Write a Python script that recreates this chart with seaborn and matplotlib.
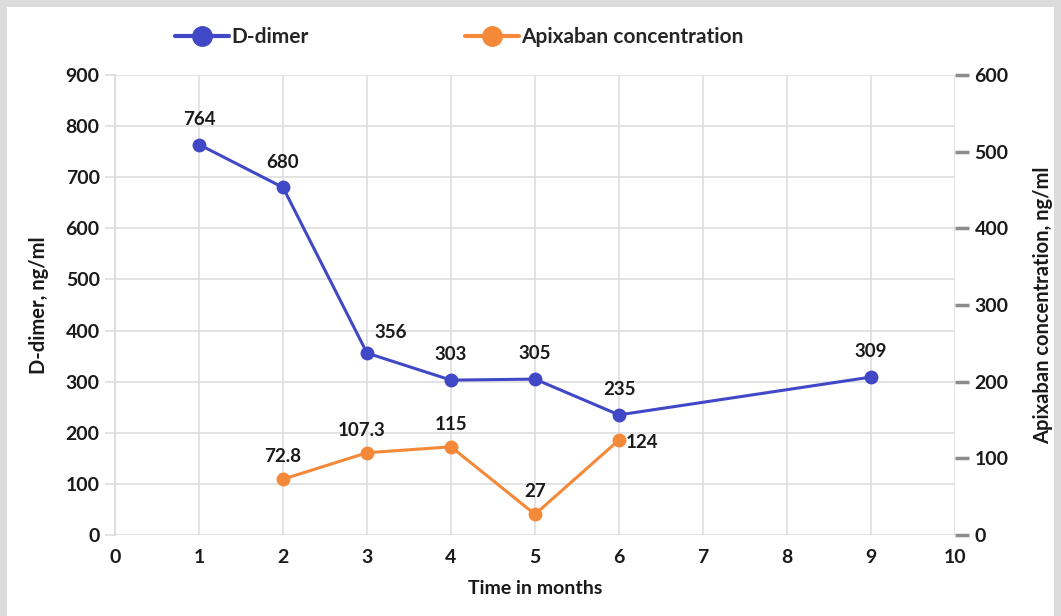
import pandas as pd
import matplotlib.pyplot as plt
import seaborn as sns
from matplotlib.lines import Line2D
from matplotlib.patches import Rectangle

# data
ddimer_months = [1, 2, 3, 4, 5, 6, 9]
ddimer_values = [764, 680, 356, 303, 305, 235, 309]
apix_months = [2, 3, 4, 5, 6]
apix_values = [72.8, 107.3, 115, 27, 124]
apix_labels = ["72.8", "107.3", "115", "27", "124"]

df_d = pd.DataFrame({"month": ddimer_months, "value": ddimer_values})
df_a = pd.DataFrame({"month": apix_months, "value": apix_values})

sns.set_style("white")
plt.rcParams['font.family'] = ['Lato', 'DejaVu Sans']
plt.rcParams['font.weight'] = 'bold'

blue = '#4048c6'
orange = '#f4893a'
grid_c = '#dedede'
tick_c = '#8c8c8c'
txt_c = '#1a1a1a'

fig = plt.figure(figsize=(10.61, 6.16), dpi=100, facecolor='#dcdcdc')
fig.patches.append(Rectangle((7 / 1061, 0), 1047 / 1061, 609 / 616,
                             transform=fig.transFigure, facecolor='white',
                             edgecolor='none', zorder=-5))
ax = fig.add_axes([115 / 1061, 1 - 535 / 616, 840 / 1061, 460 / 616])
ax.set_facecolor('none')
ax2 = ax.twinx()
ax2.set_facecolor('none')

sns.lineplot(data=df_d, x='month', y='value', ax=ax, color=blue, lw=2.2,
             marker='o', markersize=10, markeredgewidth=0, zorder=5)
sns.lineplot(data=df_a, x='month', y='value', ax=ax2, color=orange, lw=2.2,
             marker='o', markersize=10, markeredgewidth=0, zorder=5)

ax.set_xlim(0, 10)
ax.set_ylim(0, 900)
ax2.set_ylim(0, 600)
ax.set_xticks(range(0, 11))
ax.set_yticks(range(0, 901, 100))
ax2.set_yticks(range(0, 601, 100))

ax.grid(True, color=grid_c, lw=1.2)
ax.set_axisbelow(True)
for a in (ax, ax2):
    for s in a.spines.values():
        s.set_visible(False)
ax.spines['left'].set_visible(True)
ax.spines['left'].set_color(grid_c)
ax.spines['left'].set_linewidth(1.5)

ax.tick_params(axis='y', length=7, width=1.2, color=grid_c, pad=4,
               labelsize=14, labelcolor=txt_c)
ax.tick_params(axis='x', length=0, pad=10, labelsize=14, labelcolor=txt_c)
ax2.tick_params(axis='y', length=10, width=2.5, color=tick_c, pad=4,
                labelsize=14, labelcolor=txt_c)
for lab in ax.get_xticklabels() + ax.get_yticklabels() + ax2.get_yticklabels():
    lab.set_fontweight('bold')

ax.set_xlabel("Time in months", fontsize=14, fontweight='bold', labelpad=10,
              color=txt_c)
ax.set_ylabel("D-dimer, ng/ml", fontsize=14.5, fontweight='bold', labelpad=12,
              color=txt_c)
ax2.set_ylabel("Apixaban concentration, ng/ml", fontsize=14.5,
               fontweight='bold', labelpad=18, color=txt_c)

# data labels
for m, v in zip(ddimer_months, ddimer_values):
    dx, dy = 0, 12
    if m == 3:
        dx, dy = 17, 9
    ax.annotate(str(v), (m, v), xytext=(dx, dy), textcoords='offset points',
                ha='center', va='bottom', fontsize=13.5, fontweight='bold',
                color=txt_c)
for m, v, t in zip(apix_months, apix_values, apix_labels):
    if m == 6:
        ax2.annotate(t, (m, v), xytext=(5, -2), textcoords='offset points',
                     ha='left', va='center', fontsize=13.5, fontweight='bold',
                     color=txt_c)
    else:
        dx = -4 if m == 3 else 0
        ax2.annotate(t, (m, v), xytext=(dx, 10), textcoords='offset points',
                     ha='center', va='bottom', fontsize=13.5, fontweight='bold',
                     color=txt_c)

handles = [Line2D([], [], color=blue, lw=3, marker='o', markersize=14),
           Line2D([], [], color=orange, lw=3, marker='o', markersize=14)]
fig.legend(handles, ["D-dimer", "Apixaban concentration"], loc='center',
           bbox_to_anchor=(0.4326, 1 - 37 / 616), ncol=2, frameon=False,
           handlelength=2.6, handletextpad=0.1, columnspacing=7.5,
           prop={'weight': 'bold', 'size': 15})

fig.savefig("out.png", dpi=100, facecolor=fig.get_facecolor())
